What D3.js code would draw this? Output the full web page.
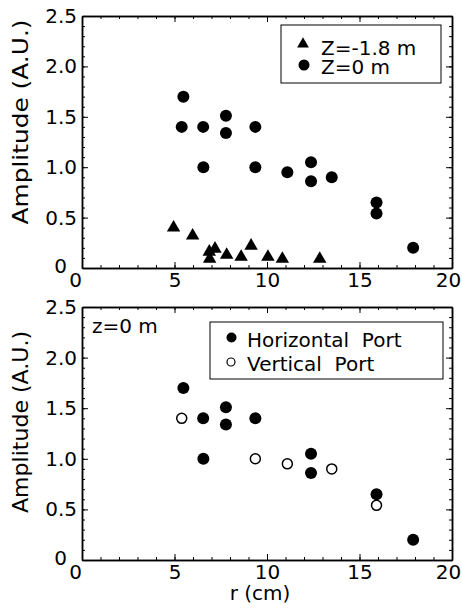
<!DOCTYPE html>
<html>
<head>
<meta charset="utf-8">
<script src="https://cdn.jsdelivr.net/npm/d3@7"></script>
<style>
  body { margin: 0; background: #fff; }
  text { font-family: "DejaVu Sans", sans-serif; fill: #000; }
</style>
</head>
<body>
<div id="chart"></div>
<script>
  // tick values
  var xTicks = [0, 5, 10, 15, 20],
      yTicks = [0, 0.5, 1.0, 1.5, 2.0, 2.5],
      xMinor = d3.range(0, 21),
      yMinor = d3.range(0, 26).map(function(i) { return i / 10; });

  // Z = -1.8 m (triangles, top panel)
  var rDeep   = [4.95, 5.98, 6.88, 7.19, 6.90, 7.82, 8.60, 9.14, 10.05, 10.83, 12.85],
      ampDeep = [0.40, 0.32, 0.16, 0.19, 0.09, 0.13, 0.11, 0.22, 0.11, 0.09, 0.09];

  // z = 0 m, horizontal port (filled)
  var rHoriz   = [5.48, 6.55, 7.78, 7.78, 9.37, 6.56, 12.38, 12.38, 15.92, 17.90],
      ampHoriz = [1.70, 1.40, 1.51, 1.34, 1.40, 1.00, 1.05, 0.86, 0.65, 0.20];

  // z = 0 m, vertical port (open)
  var rVert   = [5.39, 9.37, 11.10, 13.50, 15.92],
      ampVert = [1.40, 1.00, 0.95, 0.90, 0.54];

  var legendTop = ["Z=-1.8 m", "Z=0 m"],
      legendBottom = ["Horizontal  Port", "Vertical  Port"];

  var width = 462, height = 608, fontSize = 20;

  var svg = d3.select("#chart").append("svg")
      .attr("width", width)
      .attr("height", height);

  var x = d3.scaleLinear().domain([0, 20]).range([82, 452]);

  var fmtY = function(d) { return d === 0 ? "0" : d.toFixed(1); };

  function drawFrame(y) {
    var yb = y.range()[0], yt = y.range()[1];
    var g = svg.append("g");

    // minor ticks, all four sides, pointing inward
    g.append("g").attr("transform", "translate(0," + yb + ")")
      .call(d3.axisBottom(x).tickValues(xMinor).tickSize(-3).tickSizeOuter(0).tickFormat(""));
    g.append("g").attr("transform", "translate(0," + yt + ")")
      .call(d3.axisTop(x).tickValues(xMinor).tickSize(-3).tickSizeOuter(0).tickFormat(""));
    g.append("g").attr("transform", "translate(" + x.range()[0] + ",0)")
      .call(d3.axisLeft(y).tickValues(yMinor).tickSize(-3).tickSizeOuter(0).tickFormat(""));
    g.append("g").attr("transform", "translate(" + x.range()[1] + ",0)")
      .call(d3.axisRight(y).tickValues(yMinor).tickSize(-3).tickSizeOuter(0).tickFormat(""));

    // major ticks
    var xb = g.append("g").attr("transform", "translate(0," + yb + ")")
      .call(d3.axisBottom(x).tickValues(xTicks).tickSize(-6).tickSizeOuter(0).tickPadding(5));
    g.append("g").attr("transform", "translate(0," + yt + ")")
      .call(d3.axisTop(x).tickValues(xTicks).tickSize(-6).tickSizeOuter(0).tickFormat(""));
    var yl = g.append("g").attr("transform", "translate(" + x.range()[0] + ",0)")
      .call(d3.axisLeft(y).tickValues(yTicks).tickSize(-6).tickSizeOuter(0).tickPadding(5).tickFormat(fmtY));
    g.append("g").attr("transform", "translate(" + x.range()[1] + ",0)")
      .call(d3.axisRight(y).tickValues(yTicks).tickSize(-6).tickSizeOuter(0).tickFormat(""));

    g.selectAll(".domain").attr("stroke", "#000").attr("stroke-width", 1.5);
    g.selectAll(".tick line").attr("stroke", "#000").attr("stroke-width", 1);
    g.selectAll("g").attr("font-family", null).attr("font-size", null);
    g.selectAll(".tick text").style("font-size", fontSize + "px");

    // nudge the corner zeros apart and keep "20" inside
    xb.selectAll(".tick text").filter(function(d) { return d === 0; }).attr("dx", -7);
    xb.selectAll(".tick text").filter(function(d) { return d === 20; }).attr("dx", -4);
    yl.selectAll(".tick text").filter(function(d) { return d === 0; }).attr("dx", -10).attr("dy", "0.2em");
    return g;
  }

  function yTitle(len, cy) {
    svg.append("text")
      .attr("transform", "translate(28," + cy + ") rotate(-90)")
      .attr("text-anchor", "middle")
      .attr("textLength", len)
      .attr("lengthAdjust", "spacingAndGlyphs")
      .style("font-size", "21px")
      .text("Amplitude (A.U.)");
  }

  var tri = d3.symbol().type(d3.symbolTriangle).size(78);

  // ---------- top panel ----------
  var y1 = d3.scaleLinear().domain([0, 2.5]).range([268, 16]);
  drawFrame(y1);
  yTitle(205, 122);

  var gTop = svg.append("g");
  gTop.selectAll(".tri").data(rDeep).enter().append("path")
      .attr("class", "tri")
      .attr("d", tri)
      .attr("transform", function(d, i) { return "translate(" + x(d) + "," + y1(ampDeep[i]) + ")"; })
      .attr("fill", "#000");

  var rZ0 = rHoriz.concat(rVert), ampZ0 = ampHoriz.concat(ampVert);
  gTop.selectAll(".dot").data(rZ0).enter().append("circle")
      .attr("class", "dot")
      .attr("cx", function(d) { return x(d); })
      .attr("cy", function(d, i) { return y1(ampZ0[i]); })
      .attr("r", 6)
      .attr("fill", "#000");

  // legend top
  var lg1 = svg.append("g").attr("transform", "translate(281,25)");
  lg1.append("rect").attr("width", 160).attr("height", 58)
      .attr("fill", "#fff").attr("stroke", "#000").attr("stroke-width", 1);
  lg1.append("path").attr("d", d3.symbol().type(d3.symbolTriangle).size(60))
      .attr("transform", "translate(22,19)").attr("fill", "#000");
  lg1.append("circle").attr("cx", 23).attr("cy", 40).attr("r", 5.5).attr("fill", "#000");
  lg1.selectAll("text").data(legendTop).enter().append("text")
      .attr("x", 40)
      .attr("y", function(d, i) { return 30 + i * 19; })
      .style("font-size", fontSize + "px")
      .text(function(d) { return d; });

  // ---------- bottom panel ----------
  var y2 = d3.scaleLinear().domain([0, 2.5]).range([560, 307]);
  drawFrame(y2);
  yTitle(182, 422);

  var gBot = svg.append("g");
  gBot.selectAll(".h").data(rHoriz).enter().append("circle")
      .attr("class", "h")
      .attr("cx", function(d) { return x(d); })
      .attr("cy", function(d, i) { return y2(ampHoriz[i]); })
      .attr("r", 6)
      .attr("fill", "#000");
  gBot.selectAll(".v").data(rVert).enter().append("circle")
      .attr("class", "v")
      .attr("cx", function(d) { return x(d); })
      .attr("cy", function(d, i) { return y2(ampVert[i]); })
      .attr("r", 5)
      .attr("fill", "#fff")
      .attr("stroke", "#000")
      .attr("stroke-width", 1.5);

  svg.append("text").attr("x", 92).attr("y", 333)
      .style("font-size", fontSize + "px")
      .text("z=0 m");

  // legend bottom
  var lg2 = svg.append("g").attr("transform", "translate(210,322)");
  lg2.append("rect").attr("width", 233).attr("height", 57)
      .attr("fill", "#fff").attr("stroke", "#000").attr("stroke-width", 1);
  lg2.append("circle").attr("cx", 21.5).attr("cy", 15.5).attr("r", 5).attr("fill", "#000");
  lg2.append("circle").attr("cx", 21).attr("cy", 40).attr("r", 4)
      .attr("fill", "#fff").attr("stroke", "#000").attr("stroke-width", 1.2);
  lg2.selectAll("text").data(legendBottom).enter().append("text")
      .attr("x", 37)
      .attr("y", function(d, i) { return 25 + i * 24; })
      .style("font-size", fontSize + "px")
      .style("white-space", "pre")
      .text(function(d) { return d; });

  // x title
  svg.append("text").attr("x", 260).attr("y", 600)
      .attr("text-anchor", "middle")
      .style("font-size", fontSize + "px")
      .text("r (cm)");
</script>
</body>
</html>
